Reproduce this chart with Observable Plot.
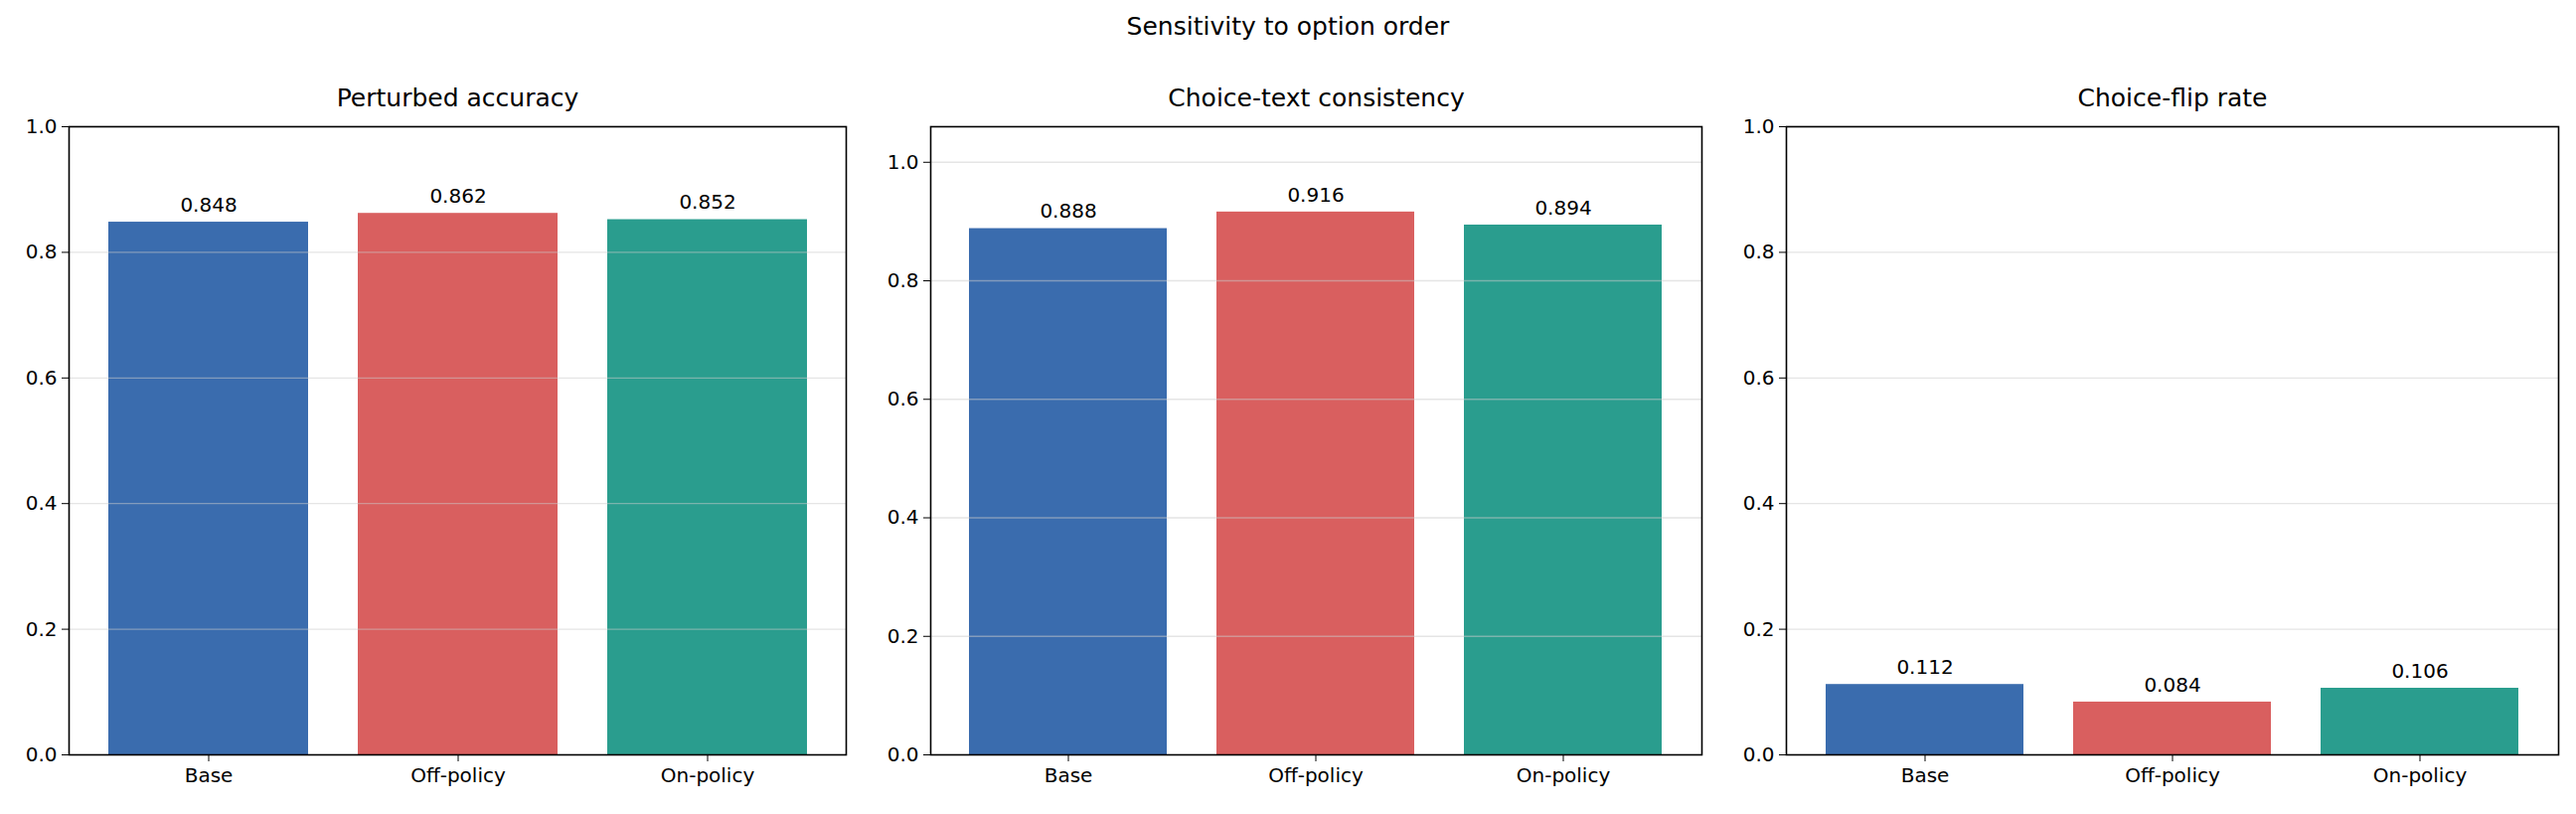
<!DOCTYPE html>
<html><head><meta charset="utf-8">
<script src="https://cdn.jsdelivr.net/npm/d3@7"></script>
<script src="https://cdn.jsdelivr.net/npm/@observablehq/plot@0.6"></script>
<style>
body{margin:0;background:#fff;font-family:"DejaVu Sans",sans-serif;}
#root{position:relative;width:2592px;height:819px;}
.sup{position:absolute;top:12px;left:0;width:2592px;text-align:center;font-size:25px;color:#000;}
.p{position:absolute;top:0;}
</style></head><body>
<div id="root"><div class="sup">Sensitivity to option order</div></div>
<script>
const categories = ["Base","Off-policy","On-policy"];
const colors = ["#3a6cae","#d95f5f","#2a9d8e"];
const panelTitles = ["Perturbed accuracy","Choice-text consistency","Choice-flip rate"];
const perturbedAccuracy = [0.848,0.862,0.852];
const consistency = [0.888,0.916,0.894];
const flipRate = [0.112,0.084,0.106];
const yMax = [1.0,1.06,1.0];
const yTicks = [0,0.2,0.4,0.6,0.8,1.0];
const series = [perturbedAccuracy, consistency, flipRate];
const frames = [[69,851],[936,1712],[1797,2574]];
const root = document.getElementById("root");
series.forEach((vals,i)=>{
  const data = categories.map((c,j)=>({c,v:vals[j],col:colors[j]}));
  const [l,r] = frames[i];
  const ml = 80, mr = 10;
  const svg = Plot.plot({
    width: r-l+ml+mr, height: 819,
    marginLeft: ml, marginRight: mr, marginTop: 127, marginBottom: 60,
    style:{fontFamily:"DejaVu Sans",fontSize:"20px",color:"#000",background:"transparent"},
    x:{domain:categories, paddingInner:0.2, paddingOuter:0.155, label:null},
    y:{domain:[0,yMax[i]], label:null},
    marks:[
      Plot.barY(data,{x:"c",y:"v",fill:"col"}),
      Plot.ruleY(yTicks.filter(t=>t>0&&t<=yMax[i]),{stroke:"#ccc",strokeOpacity:0.5,strokeWidth:1.3}),
      Plot.text(data,{x:"c",y:"v",text:d=>d.v.toFixed(3),dy:-17,fontSize:20,fill:"#000"}),
      Plot.frame({stroke:"#000",strokeWidth:1.6}),
      Plot.axisY({ticks:yTicks.filter(t=>t<=yMax[i]),tickFormat:d=>d.toFixed(1),tickSize:7,tickPadding:5,fontSize:20,label:null}),
      Plot.axisX({tickSize:7,tickPadding:6,fontSize:20,label:null}),
      Plot.text([panelTitles[i]],{frameAnchor:"top",dy:-38,fontSize:25,fill:"#000",text:d=>d})
    ]
  });
  svg.setAttribute("class","p");
  svg.style.left = (l-ml)+"px";
  svg.style.position="absolute";
  root.appendChild(svg);
});
</script>
</body></html>
